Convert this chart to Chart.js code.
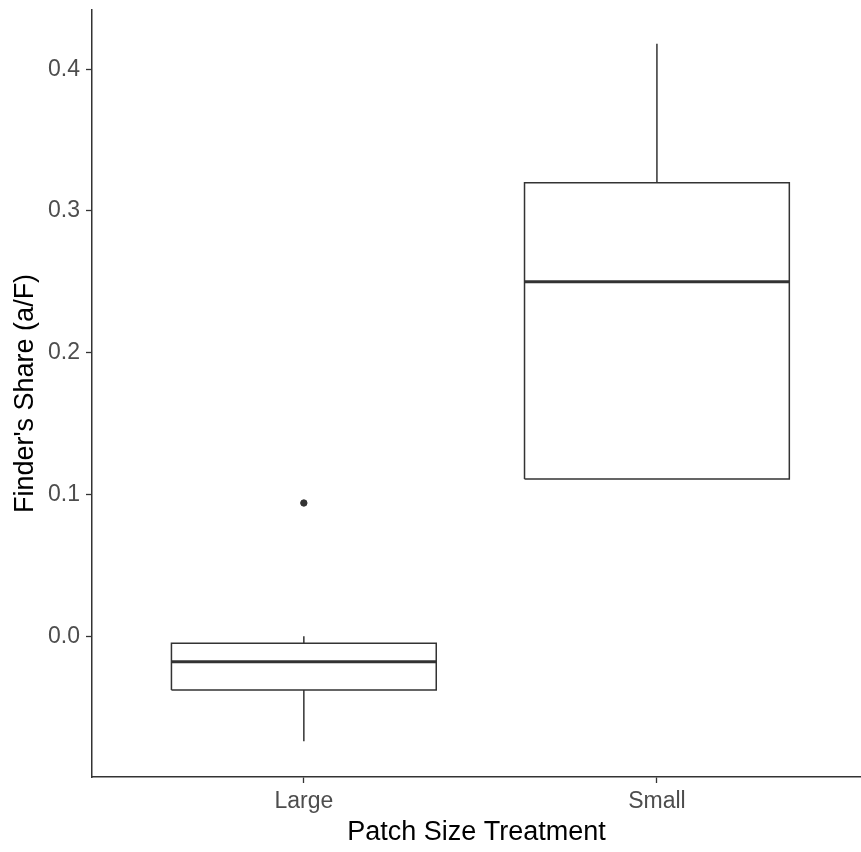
<!DOCTYPE html>
<html>
<head>
<meta charset="utf-8">
<title>Finder's Share by Patch Size Treatment</title>
<script src="https://cdn.jsdelivr.net/npm/chart.js@4/dist/chart.umd.min.js"></script>
<style>
  html, body { margin: 0; padding: 0; background: #fff; overflow: hidden; }
  #wrap { width: 861px; height: 852px; }
  canvas { display: block; }
</style>
</head>
<body>
<div id="wrap"><canvas id="chart" width="861" height="852"></canvas></div>
<script>
/* Boxplot of finder's share per patch size treatment.
   Chart.js has no boxplot type, so each box is built from line segments
   on a scatter chart (linear x, categories sit at 1 and 2). */
const groups      = ["Large", "Small"];
const lowWhisker  = [-0.074, 0.111];
const q1          = [-0.038, 0.111];
const medians     = [-0.018, 0.250];
const q3          = [-0.005, 0.320];
const highWhisker = [0.000, 0.418];
const outliers    = [[0.094], []];
const yTicks      = [0.0, 0.1, 0.2, 0.3, 0.4];

const INK = "#333333";
const BOX_HALF = 0.375;   // half of box width, in category units

function seg(points, width) {
  return {
    data: points,
    showLine: true,
    pointRadius: 0,
    borderColor: INK,
    borderWidth: width,
    fill: false,
    tension: 0,
  };
}

const datasets = [];
groups.forEach((g, i) => {
  const x = i + 1;
  const l = x - BOX_HALF, r = x + BOX_HALF;
  // whiskers
  datasets.push(seg([{x, y: q3[i]}, {x, y: highWhisker[i]}], 1.5));
  datasets.push(seg([{x, y: lowWhisker[i]}, {x, y: q1[i]}], 1.5));
  // box outline
  datasets.push(seg([
    {x: l, y: q1[i]}, {x: r, y: q1[i]}, {x: r, y: q3[i]},
    {x: l, y: q3[i]}, {x: l, y: q1[i]},
  ], 1.5));
  // median
  datasets.push(seg([{x: l, y: medians[i]}, {x: r, y: medians[i]}], 3));
  // outliers
  if (outliers[i].length) {
    datasets.push({
      data: outliers[i].map(v => ({x, y: v})),
      pointRadius: 3.2,
      pointBackgroundColor: INK,
      pointBorderColor: INK,
      pointBorderWidth: 1,
    });
  }
});

const font = "'Liberation Sans', Arial, sans-serif";

new Chart(document.getElementById("chart"), {
  type: "scatter",
  data: { datasets },
  options: {
    responsive: false,
    animation: false,
    // autoPadding off so the x axis line runs to the canvas edge like the original
    layout: { autoPadding: false, padding: { top: 10, right: 0, left: 0, bottom: 0 } },
    plugins: { legend: { display: false }, tooltip: { enabled: false } },
    scales: {
      x: {
        type: "linear",
        min: 0.4,
        max: 2.578,
        afterBuildTicks: s => { s.ticks = groups.map((g, i) => ({ value: i + 1 })); },
        afterFit: s => { s.height = 75; s.paddingLeft = 0; s.paddingRight = 0; },
        ticks: {
          callback: v => groups[v - 1],
          color: "#4d4d4d",
          font: { family: font, size: 23 },
          padding: 5,
          maxRotation: 0,
        },
        grid: { drawOnChartArea: false, drawTicks: true, tickLength: 6, color: INK, tickWidth: 1.3 },
        border: { display: true, color: INK, width: 1.5 },
        title: {
          display: true,
          text: "Patch Size Treatment",
          color: "#000",
          font: { family: font, size: 27 },
          padding: { top: 0, bottom: 3 },
        },
      },
      y: {
        type: "linear",
        min: -0.0993,
        max: 0.4418,
        afterBuildTicks: s => { s.ticks = yTicks.map(v => ({ value: v })); },
        afterFit: s => { s.width = 92; s.paddingTop = 0; s.paddingBottom = 0; },
        ticks: {
          callback: v => Number(v).toFixed(1),
          color: "#4d4d4d",
          font: { family: font, size: 23 },
          padding: 6,
        },
        grid: { drawOnChartArea: false, drawTicks: true, tickLength: 6, color: INK, tickWidth: 1.3 },
        border: { display: true, color: INK, width: 1.5 },
        title: {
          display: true,
          text: "Finder's Share (a/F)",
          color: "#000",
          font: { family: font, size: 27 },
          padding: { top: 9, bottom: 0 },
        },
      },
    },
  },
});
</script>
</body>
</html>
